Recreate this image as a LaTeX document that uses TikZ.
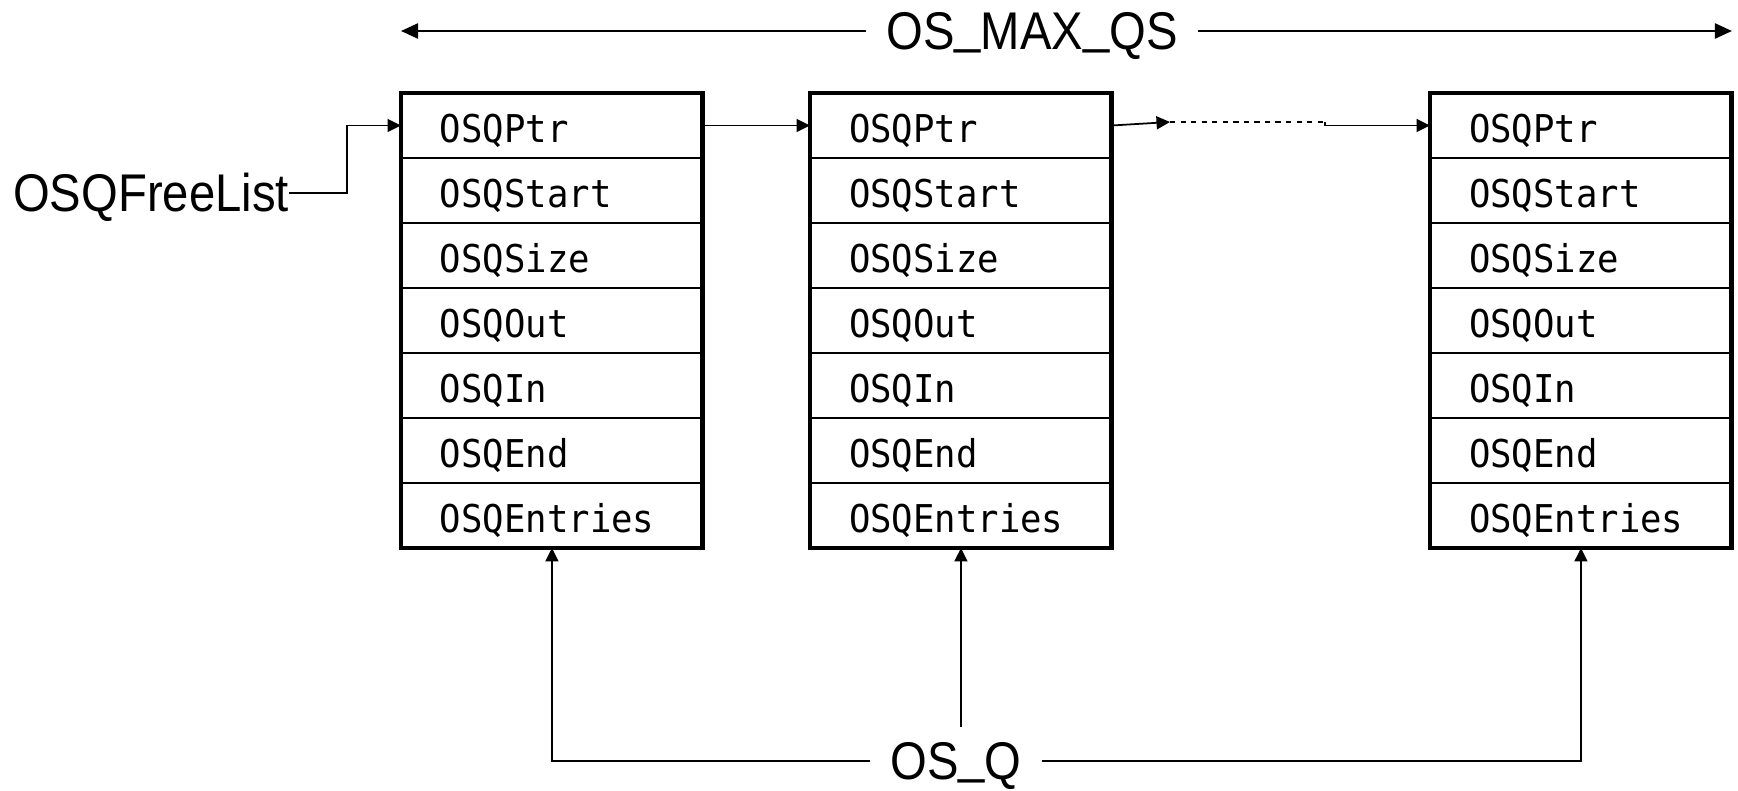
\documentclass[tikz,border=0pt]{standalone}
\usepackage{fontspec}
\usetikzlibrary{arrows.meta,positioning}

\newfontfamily\cellfont[FakeStretch=0.93]{DejaVu Sans Mono}
\newfontfamily\labelfont[FakeStretch=0.89]{Liberation Sans}
\newcommand{\usc}{\raisebox{0.12em}{\_}}

\begin{document}
\begin{tikzpicture}[x=0.02cm, y=-0.02cm,
    cell/.style={draw, line width=1.1pt, minimum width=6.04cm, minimum height=1.3cm,
        text width=4.48cm, align=left, inner xsep=0.78cm, inner ysep=0pt, outer sep=0pt,
        anchor=north west, text height=0.7cm, text depth=0pt,
        font=\cellfont\fontsize{21.8}{26}\selectfont},
    frame/.style={line width=2.8pt},
    tag/.style={inner xsep=0.4cm, inner ysep=0pt, outer sep=0pt,
        text height=0.73cm, text depth=0pt,
        font=\labelfont\fontsize{30.2}{36}\selectfont},
    link/.style={line width=1pt, -{Triangle[length=0.27cm, width=0.26cm]}},
    span/.style={line width=1.4pt, -{Triangle[length=0.34cm, width=0.3cm]}}]

    \useasboundingbox (0,0) rectangle (1738,791);

    % Draw the three OS_Q blocks
    \foreach \q/\x in {1/401, 2/810, 3/1430} {
        \foreach \f [count=\r] in {OSQPtr, OSQStart, OSQSize, OSQOut, OSQIn, OSQEnd, OSQEntries} {
            \node[cell] (q\q-\r) at (\x, {93+65*(\r-1)}) {\f};
        }
        \draw[frame] (q\q-1.north west) rectangle (q\q-7.south east);
    }

    % Labels
    \node[tag] (maxqs) at (1032,31) {OS\usc MAX\usc QS};
    \node[tag] (osq) at (956,761) {OS\usc Q};
    \node[tag, inner xsep=0pt] (freelist) at (151,193) {OSQFreeList};

    % Width of the pool
    \draw[span] (maxqs.west) -- (maxqs.west -| q1-1.west);
    \draw[span] (maxqs.east) -- (maxqs.east -| q3-1.east);

    % Free list chain
    \draw[link] (freelist.east) -- ++(58,0) |- (q1-1.west);
    \draw[link] (q1-1.east) -- (q2-1.west);
    \coordinate (gapL) at (1170,122);
    \coordinate (gapR) at (1325,122);
    \draw[link] (q2-1.east) -- (gapL);
    \draw[line width=1pt, dashed] (gapL) -- (gapR);
    \draw[link] (gapR) |- (q3-1.west);

    % Type of each block
    \draw[link] (osq.west) -| (q1-7.south);
    \draw[link] (osq.east) -| (q3-7.south);
    \draw[link] ([yshift=0.32cm]osq.north -| q2-7.south) -- (q2-7.south);

\end{tikzpicture}
\end{document}
